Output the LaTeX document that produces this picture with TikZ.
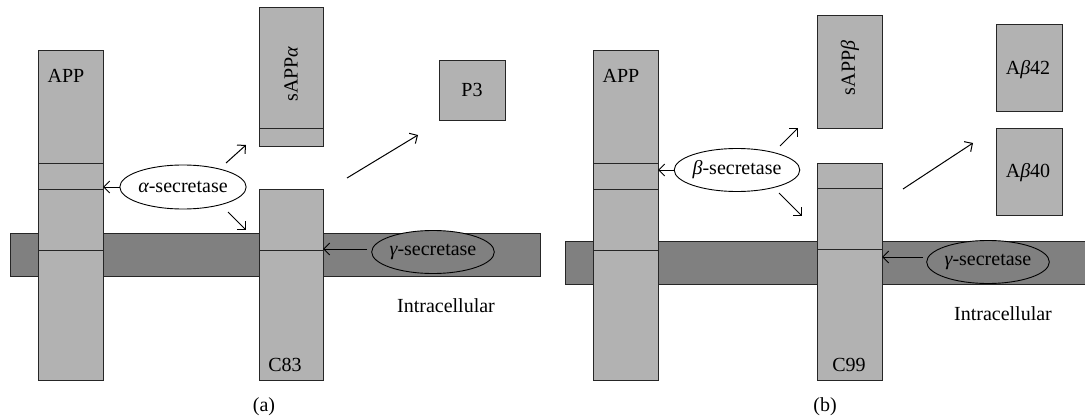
\documentclass[tikz,border=0pt]{standalone}
\usepackage{fontspec}
\setmainfont{Liberation Serif}
\usetikzlibrary{arrows.meta,shapes.geometric}
\definecolor{boxgray}{gray}{0.70}
\definecolor{memgray}{gray}{0.50}
\newcommand{\gk}[1]{{\itshape #1}}
\begin{document}
\begin{tikzpicture}[x=1pt,y=-1pt,
  every node/.style={font=\fontsize{20}{23}\selectfont, inner sep=0pt, outer sep=0pt},
  box/.style={draw=black!85, line width=0.9pt, fill=boxgray, anchor=north west},
  mem/.style={draw=black!85, line width=0.9pt, fill=memgray, anchor=north west},
  enz/.style={draw=black, line width=0.9pt, ellipse, fill=white},
  genz/.style={draw=black, line width=0.9pt, ellipse, fill=memgray},
  arr/.style={line width=1pt, -{Straight Barb[length=6pt,width=12pt]}},
  cut/.style={line width=0.9pt, draw=black!85}]
\useasboundingbox (0,0) rectangle (1085,420);
% ---------------- panel (a) ----------------
\node[mem, minimum width=530pt, minimum height=43pt] (memA) at (10,233) {};
\node[box, minimum width=65pt, minimum height=330pt] (appA) at (38,50) {};
\draw[cut] (appA.west |- 0,163) -- (appA.east |- 0,163);
\draw[cut] (appA.west |- 0,189) -- (appA.east |- 0,189);
\draw[cut] (appA.west |- 0,250) -- (appA.east |- 0,250);
\node[anchor=center] (appAlbl) at (66,76) {APP};
\node[box, minimum width=64pt, minimum height=139pt] (sappa) at (259,7) {};
\draw[cut] (sappa.west |- 0,128) -- (sappa.east |- 0,128);
\node[rotate=90] (sappalbl) at (291,74) {sAPP\gk{α}};
\node[box, minimum width=64pt, minimum height=191pt] (c83) at (259,189) {};
\draw[cut] (c83.west |- 0,250) -- (c83.east |- 0,250);
\node (c83lbl) at (285,365) {C83};
\node[box, minimum width=66pt, minimum height=60pt] (p3) at (439,60) {};
\node (p3lbl) at (472,90) {P3};
\node[enz, minimum width=122pt, minimum height=44pt] (alpha) at (183,187) {\gk{α}-secretase};
\node[genz, minimum width=120pt, minimum height=43pt] (gammaA) at (433,252) {\gk{γ}-secretase};
\node (intraA) at (446,306) {Intracellular};
\coordinate (aup1) at (226,163); \coordinate (aup2) at (246,145);
\coordinate (adn1) at (228,212); \coordinate (adn2) at (246,230);
\coordinate (ap31) at (347,178); \coordinate (ap32) at (418,135);
\coordinate (ag1) at (367,249);
\draw[arr] (alpha.west) -- (appA.east |- alpha.west);
\draw[arr] (aup1) -- (aup2);
\draw[arr] (adn1) -- (adn2);
\draw[arr] (ap31) -- (ap32);
\draw[arr] (ag1) -- (c83.east |- ag1);
\node (capA) at (264,407) {(a)};
% ---------------- panel (b) ----------------
\node[mem, minimum width=520pt, minimum height=43pt] (memB) at (565,241) {};
\node[box, minimum width=65pt, minimum height=330pt] (appB) at (593,50) {};
\draw[cut] (appB.west |- 0,163) -- (appB.east |- 0,163);
\draw[cut] (appB.west |- 0,189) -- (appB.east |- 0,189);
\draw[cut] (appB.west |- 0,250) -- (appB.east |- 0,250);
\node (appBlbl) at (621,76) {APP};
\node[box, minimum width=65pt, minimum height=113pt] (sappb) at (817,15) {};
\node[rotate=90] (sappblbl) at (850,68) {sAPP\gk{β}};
\node[box, minimum width=65pt, minimum height=217pt] (c99) at (817,163) {};
\draw[cut] (c99.west |- 0,188) -- (c99.east |- 0,188);
\draw[cut] (c99.west |- 0,249) -- (c99.east |- 0,249);
\node (c99lbl) at (849,365) {C99};
\node[box, minimum width=66pt, minimum height=87pt] (ab42) at (996,24) {};
\node (ab42lbl) at (1028,70) {A\gk{β}42};
\node[box, minimum width=66pt, minimum height=87pt] (ab40) at (996,128) {};
\node (ab40lbl) at (1028,173) {A\gk{β}40};
\node[enz, minimum width=121pt, minimum height=43pt] (beta) at (737,170) {\gk{β}-secretase};
\node[genz, minimum width=122pt, minimum height=43pt] (gammaB) at (988,262) {\gk{γ}-secretase};
\node (intraB) at (1003,314) {Intracellular};
\coordinate (bup1) at (780,146); \coordinate (bup2) at (798,128);
\coordinate (bdn1) at (779,193); \coordinate (bdn2) at (802,216);
\coordinate (bab1) at (903,189); \coordinate (bab2) at (973,143);
\coordinate (bg1) at (923,257);
\draw[arr] (beta.west) -- (appB.east |- beta.west);
\draw[arr] (bup1) -- (bup2);
\draw[arr] (bdn1) -- (bdn2);
\draw[arr] (bab1) -- (bab2);
\draw[arr] (bg1) -- (c99.east |- bg1);
\node (capB) at (825,407) {(b)};
\end{tikzpicture}
\end{document}
